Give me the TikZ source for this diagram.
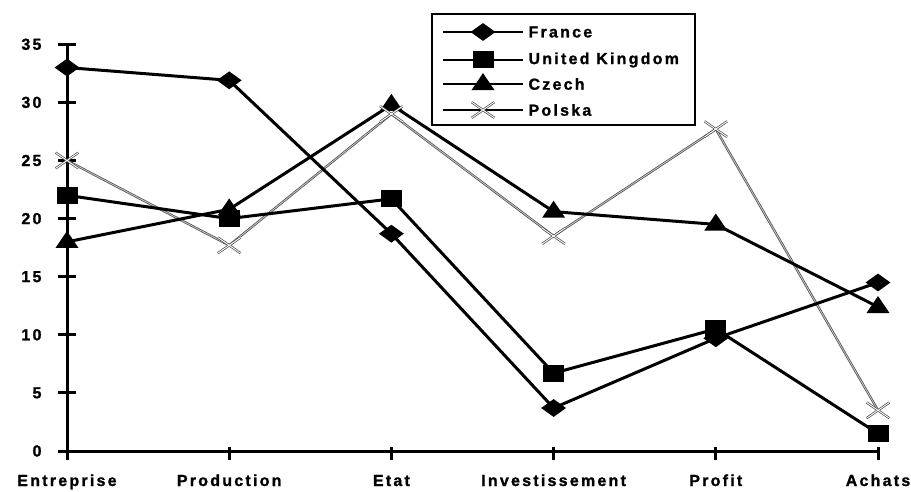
\documentclass[tikz,border=0pt]{standalone}
\usepackage{fontspec}
\setmainfont{Liberation Sans}
\newfontfamily\chartfont[LetterSpace=14, FakeBold=1.2]{Liberation Sans Bold}
\usetikzlibrary{positioning,shapes.geometric,shapes.misc}

\begin{document}
\begin{tikzpicture}[x=1pt,y=1pt]
  \definecolor{polskagray}{HTML}{C0C0C0}
  \definecolor{polskaedge}{HTML}{4A4A4A}
  \newcommand{\chartlabel}[1]{\chartfont\fontsize{16}{16}\selectfont #1}
  \tikzstyle{axis}       = [line width=3pt]
  \tikzstyle{series}     = [line width=3pt, line join=round]
  \tikzstyle{polskaline} = [line width=0.7pt, draw=polskaedge, double=polskagray, double distance=0.9pt, line join=round]
  \tikzstyle{frmark}     = [diamond, fill=black, inner sep=0pt, minimum width=25pt, minimum height=18pt]
  \tikzstyle{ukmark}     = [rectangle, fill=black, inner sep=0pt, minimum width=21pt, minimum height=17pt]
  \tikzstyle{czmark}     = [isosceles triangle, isosceles triangle stretches, shape border rotate=90, fill=black, inner sep=0pt, minimum width=23pt, minimum height=17pt]
  \tikzstyle{plmark}     = [cross out, draw=polskaedge, double=white, double distance=0.9pt, line width=0.7pt, inner sep=0pt, minimum width=22pt, minimum height=15pt]

  \useasboundingbox (0,0) rectangle (911,491);

  \begin{scope}[shift={(67,40)}, x=162.2pt, y=11.62pt]
    % axes
    \draw [axis] (0,0) -- (5,0);
    \draw [axis] ([yshift=-7pt]0,0) -- (0,35);
    \foreach \v in {0,5,...,35} {
      \draw [axis] ([xshift=-9pt]0,\v) -- ([xshift=9pt]0,\v);
      \node [anchor=east] (ylab\v) at ([xshift=-22pt]0,\v) {\chartlabel{\v}};
    }
    \foreach \name [count=\i from 0] in {Entreprise,Production,Etat,Investissement,Profit,Achats} {
      \draw [axis] ([yshift=4pt]\i,0) -- ([yshift=-9pt]\i,0);
      \node [anchor=base] (xlab\i) at ([yshift=-35pt]\i,0) {\chartlabel{\name}};
    }

    % data points
    \foreach \v [count=\i from 0] in {33,31.9,18.7,3.7,9.7,14.5}  \coordinate (fr\i) at (\i,\v);
    \foreach \v [count=\i from 0] in {22,20,21.7,6.7,10.5,1.5}    \coordinate (uk\i) at (\i,\v);
    \foreach \v [count=\i from 0] in {18,20.8,29.8,20.6,19.5,12.4} \coordinate (cz\i) at (\i,\v);
    \foreach \v [count=\i from 0] in {25,17.7,29,18.5,27.7,3.5}   \coordinate (pl\i) at (\i,\v);

    \draw [polskaline] (pl0) \foreach \i in {1,...,5} {-- (pl\i)};
    \draw [series] (fr0) \foreach \i in {1,...,5} {-- (fr\i)};
    \draw [series] (uk0) \foreach \i in {1,...,5} {-- (uk\i)};
    \draw [series] (cz0) \foreach \i in {1,...,5} {-- (cz\i)};

    \foreach \i in {0,...,5} {
      \node [frmark] (frm\i) at (fr\i) {};
      \node [ukmark] (ukm\i) at (uk\i) {};
      \node [czmark] (czm\i) at (cz\i) {};
      \node [plmark] (plm\i) at (pl\i) {};
    }
  \end{scope}

  % legend
  \node [draw, line width=2pt, minimum width=263pt, minimum height=111pt, inner sep=0pt] (legend) at (563.5,421.5) {};
  \foreach \key/\y/\txt in {fr/459/France, uk/431/United Kingdom, cz/407/Czech, pl/381/Polska} {
    \coordinate (\key a) at (443,\y);
    \coordinate (\key m) at (483,\y);
    \coordinate (\key b) at (523,\y);
    \node [anchor=west] (\key txt) at (525,\y) {\chartlabel{\txt}};
  }
  \draw [line width=2pt] (fra) -- (frb);
  \draw [line width=2pt] (uka) -- (ukb);
  \draw [line width=2pt] (cza) -- (czb);
  \draw [line width=2pt] (pla) -- (plb);
  \node [frmark] (frleg) at (frm) {};
  \node [ukmark] (ukleg) at (ukm) {};
  \node [czmark] (czleg) at (czm) {};
  \node [plmark] (plleg) at (plm) {};
\end{tikzpicture}
\end{document}
